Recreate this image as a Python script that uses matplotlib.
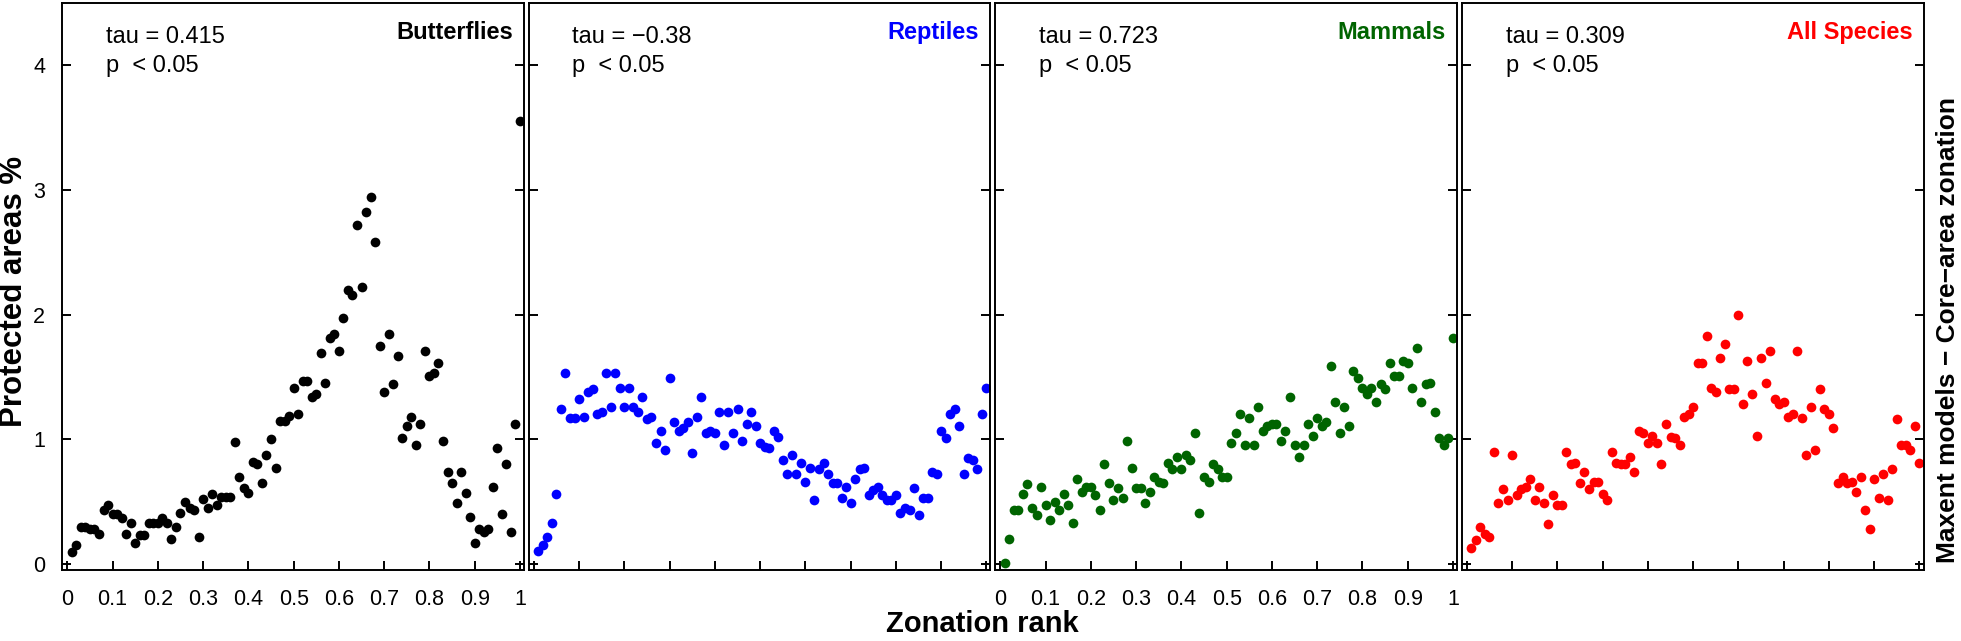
import numpy as np
import matplotlib
matplotlib.use("Agg")
import matplotlib.pyplot as plt

plt.rcParams['font.family'] = ['Liberation Sans', 'DejaVu Sans']

# zonation rank (100 bins)
rank = np.arange(1, 101) / 100

butterflies = [0.10, 0.15, 0.30, 0.30, 0.28, 0.28, 0.24, 0.43, 0.47, 0.40,
               0.40, 0.37, 0.24, 0.33, 0.17, 0.23, 0.23, 0.33, 0.33, 0.33,
               0.37, 0.33, 0.20, 0.30, 0.41, 0.50, 0.45, 0.43, 0.22, 0.52,
               0.45, 0.56, 0.47, 0.54, 0.54, 0.54, 0.98, 0.70, 0.61, 0.57,
               0.82, 0.80, 0.65, 0.87, 1.00, 0.77, 1.15, 1.15, 1.19, 1.41,
               1.20, 1.47, 1.47, 1.34, 1.36, 1.69, 1.45, 1.81, 1.84, 1.71,
               1.97, 2.20, 2.16, 2.72, 2.22, 2.82, 2.94, 2.58, 1.75, 1.38,
               1.84, 1.44, 1.67, 1.01, 1.11, 1.18, 0.95, 1.12, 1.71, 1.51,
               1.53, 1.61, 0.99, 0.74, 0.65, 0.49, 0.74, 0.57, 0.38, 0.17,
               0.28, 0.26, 0.28, 0.62, 0.93, 0.40, 0.80, 0.26, 1.12, 3.55]

reptiles = [0.105, 0.15, 0.22, 0.33, 0.56, 1.24, 1.53, 1.17, 1.17, 1.32,
            1.18, 1.38, 1.40, 1.20, 1.22, 1.53, 1.26, 1.53, 1.41, 1.26,
            1.41, 1.26, 1.22, 1.34, 1.16, 1.18, 0.97, 1.07, 0.91, 1.49,
            1.14, 1.07, 1.09, 1.14, 0.89, 1.18, 1.34, 1.05, 1.07, 1.05,
            1.22, 0.95, 1.22, 1.05, 1.24, 0.99, 1.12, 1.22, 1.11, 0.97,
            0.94, 0.93, 1.07, 1.02, 0.83, 0.72, 0.87, 0.72, 0.81, 0.66,
            0.77, 0.51, 0.76, 0.81, 0.72, 0.65, 0.65, 0.53, 0.62, 0.49,
            0.68, 0.76, 0.77, 0.55, 0.59, 0.62, 0.55, 0.51, 0.51, 0.55,
            0.41, 0.45, 0.43, 0.61, 0.39, 0.53, 0.53, 0.74, 0.72, 1.07,
            1.01, 1.20, 1.24, 1.11, 0.72, 0.85, 0.83, 0.76, 1.20, 1.41]

mammals = [0.01, 0.20, 0.43, 0.43, 0.56, 0.64, 0.45, 0.39, 0.62, 0.47,
           0.35, 0.50, 0.43, 0.56, 0.47, 0.33, 0.68, 0.58, 0.62, 0.62,
           0.55, 0.43, 0.80, 0.65, 0.51, 0.61, 0.53, 0.99, 0.77, 0.61,
           0.61, 0.49, 0.58, 0.70, 0.66, 0.65, 0.81, 0.76, 0.86, 0.76,
           0.87, 0.83, 1.05, 0.41, 0.70, 0.66, 0.80, 0.76, 0.70, 0.70,
           0.97, 1.05, 1.20, 0.95, 1.17, 0.95, 1.26, 1.07, 1.11, 1.12,
           1.12, 0.99, 1.07, 1.34, 0.95, 0.86, 0.95, 1.12, 1.03, 1.17,
           1.11, 1.14, 1.59, 1.30, 1.05, 1.26, 1.11, 1.55, 1.49, 1.41,
           1.36, 1.41, 1.30, 1.44, 1.40, 1.61, 1.51, 1.51, 1.63, 1.61,
           1.41, 1.73, 1.30, 1.44, 1.45, 1.22, 1.01, 0.95, 1.01, 1.81]

all_species = [0.13, 0.19, 0.30, 0.24, 0.22, 0.90, 0.49, 0.60, 0.51, 0.87,
               0.55, 0.60, 0.62, 0.68, 0.51, 0.62, 0.49, 0.32, 0.55, 0.47,
               0.47, 0.90, 0.80, 0.81, 0.65, 0.74, 0.60, 0.66, 0.66, 0.56,
               0.51, 0.90, 0.81, 0.80, 0.80, 0.86, 0.74, 1.07, 1.05, 0.97,
               1.03, 0.97, 0.80, 1.12, 1.02, 1.01, 0.95, 1.18, 1.20, 1.26,
               1.61, 1.61, 1.83, 1.41, 1.38, 1.65, 1.76, 1.40, 1.40, 2.00,
               1.28, 1.63, 1.36, 1.03, 1.65, 1.45, 1.71, 1.32, 1.28, 1.30,
               1.18, 1.20, 1.71, 1.17, 0.87, 1.26, 0.91, 1.40, 1.24, 1.20,
               1.09, 0.65, 0.70, 0.65, 0.66, 0.58, 0.70, 0.43, 0.28, 0.68,
               0.53, 0.72, 0.51, 0.76, 1.16, 0.95, 0.95, 0.91, 1.11, 0.81]

groups = ["Butterflies", "Reptiles", "Mammals", "All Species"]
series = [butterflies, reptiles, mammals, all_species]
colors = ["black", "#0000FF", "#006400", "#FF0000"]
taus = ["tau = 0.415", "tau = \u22120.38", "tau = 0.723", "tau = 0.309"]

W, H = 1961, 641
fig = plt.figure(figsize=(W / 100, H / 100), dpi=100)

lefts = [62, 528.5, 995, 1461.5]
pw = 462
top, bottom = 3, 570

for i, (name, y, col, tau) in enumerate(zip(groups, series, colors, taus)):
    ax = fig.add_axes([lefts[i] / W, (H - bottom) / H, pw / W, (bottom - top) / H])
    ax.plot(rank, y, 'o', color=col, ms=7, mec='none')
    ax.set_xlim(-0.0117, 1.0089)
    ax.set_ylim(-0.048, 4.497)
    ax.set_xticks(np.arange(0, 1.01, 0.1))
    ax.set_xticklabels(['0', '0.1', '0.2', '0.3', '0.4', '0.5', '0.6', '0.7', '0.8', '0.9', '1'])
    ax.set_yticks([0, 1, 2, 3, 4])
    ax.tick_params(direction='in', length=6.8, width=1.4, left=True, right=True,
                   top=False, bottom=True, labelsize=15.5)
    ax.tick_params(axis='x', pad=14)
    ax.tick_params(axis='y', pad=12)
    if i != 0:
        ax.tick_params(labelleft=False)
    if i not in (0, 2):
        ax.tick_params(labelbottom=False)
    for s in ax.spines.values():
        s.set_linewidth(1.4)

    ax.text(0.0855, 4.174, tau, fontsize=17, ha='left', va='baseline')
    ax.text(0.0855, 3.944, "p  < 0.05", fontsize=17, ha='left', va='baseline')
    ax.text(0.984, 4.205, name, fontsize=17, fontweight='bold', color=col,
            ha='right', va='baseline')

fig.text(14 / W, 1 - 291 / H, "Protected areas %", rotation=90, fontsize=22.5,
         fontweight='bold', ha='center', va='center')
fig.text(982 / W, 1 - 624 / H, "Zonation rank", fontsize=21, fontweight='bold',
         ha='center', va='center')
fig.text(1948 / W, 1 - 330 / H, "Maxent models \u2212 Core\u2212area zonation", rotation=90,
         fontsize=19, fontweight='bold', ha='center', va='center')

fig.savefig("out.png", dpi=100)
